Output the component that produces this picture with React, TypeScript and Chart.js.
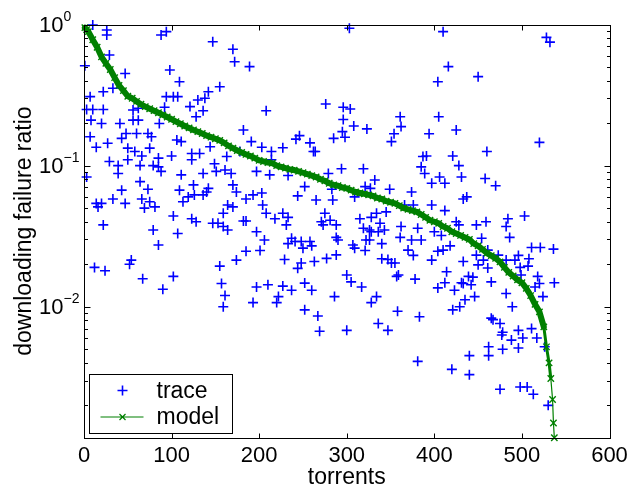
import React, { useEffect, useRef } from "react";
import { Chart, registerables } from "chart.js";

Chart.register(...registerables);

const FONT = "'Liberation Sans', Arial, Helvetica, sans-serif";

const xTitle = "torrents";
const yTitle = "downloading failure ratio";
const legendLabels = ["trace", "model"];
const xTickValues = [0, 100, 200, 300, 400, 500, 600];
const yMajorTicks = [1, 0.1, 0.01];
const yTickBase = "10";
const yTickExponents = ["0", "\u22121", "\u22122"];
const xRange = [0, 600];
const yRange = [0.00118, 1];

const traceX = [
  10, 26, 26, 88, 94, 147, 170, 172, 189, 29, 1, 47, 98, 109, 155, 142, 22, 7, 33, 94,
  102, 107, 130, 138, 121, 3, 10, 22, 56, 62, 92, 136, 208, 128, 8, 20, 41, 56, 62, 86,
  182, 7, 48, 60, 73, 77, 106, 111, 144, 191, 203, 214, 14, 27, 43, 50, 58, 66, 75, 100,
  85, 123, 132, 163, 178, 29, 39, 64, 79, 85, 149, 214,
  39, 50, 88, 123, 151, 161, 168, 197, 3, 64, 73, 43, 33, 47, 66, 75, 69, 81, 14, 16,
  20, 109, 113, 119, 126, 136, 142, 140, 125, 136, 111, 170, 174, 193, 185, 164, 170, 159, 102, 123,
  128, 147, 153, 159, 164, 182, 185, 197, 22, 79, 107, 85, 185, 174, 201, 54, 52, 12, 24, 155,
  67, 102, 157, 90, 161, 197, 159, 193,
  303, 410, 416, 404, 450, 276, 296, 304, 296, 308, 323, 361, 362, 354, 351, 405, 425, 394, 295, 298,
  285, 246, 242, 258, 262, 264, 227, 387, 391, 385, 421, 428, 294, 319,
  528, 532, 520, 460, 431, 458, 470, 433, 437, 503, 484, 482, 486, 459, 448, 425, 428, 511, 521,
  536, 454, 496, 508, 492, 482, 473, 461, 448, 456, 450, 433, 461, 498, 507,
  212, 233, 279, 332, 389, 397, 406, 252, 244, 265, 284, 283, 321, 327, 309, 349, 374, 366, 376, 397,
  203, 204, 208, 227, 233, 218, 231, 275, 271, 273, 281, 288, 315, 328, 334, 345, 338, 319, 326, 328,
  336, 343, 326, 322, 206, 237, 241, 233, 248, 258, 260, 250, 288, 290, 307, 309, 321, 340, 362, 361,
  374, 385, 381, 370, 376, 397, 404, 229, 248, 244, 263, 277, 288, 340, 347, 351, 355, 300, 305, 317,
  359, 357, 378, 210, 227, 237, 252, 260, 222, 286, 334, 404,
  220, 328, 252, 267, 269, 300, 336, 347, 358, 383, 381,
  410, 414, 412, 433, 423, 431, 442, 444, 439, 446, 435, 429, 421, 465, 482, 489, 499, 518, 515, 524,
  520, 537, 465, 467, 475, 478, 477, 488, 496, 501, 511, 517, 526, 462, 462, 478, 496, 440, 440, 420,
  475, 498, 506, 513, 530,
  412, 412, 400, 408, 418,
];

const traceY = [
  0.99, 0.914, 0.842, 0.842, 0.89, 0.755, 0.667, 0.545, 0.503, 0.608, 0.51, 0.45, 0.476, 0.393, 0.362, 0.334, 0.334, 0.308, 0.353, 0.308,
  0.308, 0.308, 0.292, 0.3, 0.262, 0.25, 0.25, 0.25, 0.248, 0.255, 0.259, 0.245, 0.245, 0.222, 0.21, 0.199, 0.199, 0.21, 0.21, 0.199,
  0.179, 0.16, 0.169, 0.169, 0.169, 0.16, 0.152, 0.148, 0.136, 0.148, 0.135, 0.126, 0.135, 0.144, 0.156, 0.133, 0.126, 0.117, 0.133, 0.117,
  0.113, 0.122, 0.122, 0.116, 0.126, 0.107, 0.1, 0.1, 0.1, 0.098, 0.103, 0.11,
  0.088, 0.11, 0.091, 0.11, 0.091, 0.093, 0.088, 0.091, 0.083, 0.077, 0.068, 0.067, 0.058, 0.054, 0.058, 0.0555, 0.05, 0.051, 0.054, 0.051,
  0.054, 0.067, 0.0555, 0.06, 0.062, 0.062, 0.069, 0.065, 0.073, 0.088, 0.086, 0.073, 0.065, 0.062, 0.058, 0.0526, 0.051, 0.046, 0.044, 0.042,
  0.04, 0.039, 0.039, 0.037, 0.035, 0.0405, 0.0405, 0.034, 0.038, 0.035, 0.033, 0.0274, 0.0247, 0.0214, 0.025, 0.0214, 0.02, 0.019, 0.018, 0.0194,
  0.0158, 0.0164, 0.0146, 0.0133, 0.012, 0.0138, 0.01, 0.0107,
  0.94, 0.89, 0.503, 0.393, 0.427, 0.273, 0.259, 0.252, 0.212, 0.191, 0.182, 0.222, 0.189, 0.168, 0.148, 0.222, 0.179, 0.168, 0.174, 0.159,
  0.156, 0.163, 0.154, 0.145, 0.126, 0.126, 0.134, 0.116, 0.117, 0.098, 0.117, 0.1, 0.095, 0.095,
  0.81, 0.75, 0.146, 0.126, 0.083, 0.081, 0.072, 0.058, 0.06, 0.044, 0.042, 0.037, 0.031, 0.04, 0.038, 0.04, 0.038, 0.0263, 0.0263,
  0.0256, 0.0306, 0.0231, 0.0219, 0.0214, 0.0214, 0.0232, 0.0252, 0.0232, 0.0214, 0.0198, 0.0209, 0.0188, 0.019, 0.0194,
  0.086, 0.085, 0.088, 0.079, 0.088, 0.075, 0.083, 0.071, 0.061, 0.057, 0.057, 0.068, 0.071, 0.069, 0.06, 0.068, 0.065, 0.0526, 0.0526, 0.0526,
  0.064, 0.0526, 0.046, 0.046, 0.043, 0.042, 0.038, 0.046, 0.04, 0.038, 0.041, 0.038, 0.042, 0.043, 0.046, 0.047, 0.039, 0.036, 0.035, 0.034,
  0.034, 0.035, 0.0297, 0.0297, 0.0297, 0.0306, 0.029, 0.028, 0.029, 0.029, 0.027, 0.026, 0.031, 0.0297, 0.0274, 0.026, 0.025, 0.028, 0.037, 0.031,
  0.0297, 0.0297, 0.036, 0.0252, 0.0231, 0.0214, 0.0247, 0.0216, 0.0204, 0.0187, 0.0209, 0.022, 0.0233, 0.0219, 0.0216, 0.0204, 0.0204, 0.0168, 0.015, 0.0138,
  0.0168, 0.0164, 0.0157, 0.0143, 0.014, 0.0131, 0.0147, 0.0131, 0.0118, 0.0118, 0.0118, 0.0136,
  0.0107, 0.0107, 0.0095, 0.0086, 0.0067, 0.0068, 0.0076, 0.0068, 0.0093, 0.0085, 0.0041,
  0.0252, 0.0177, 0.0148, 0.0146, 0.0131, 0.0148, 0.0143, 0.0162, 0.0164, 0.0118, 0.0112, 0.01, 0.0095, 0.015, 0.0124, 0.01, 0.0168, 0.0164, 0.0138, 0.0118,
  0.0146, 0.0148, 0.0083, 0.0081, 0.0076, 0.0066, 0.0063, 0.0058, 0.0068, 0.006, 0.007, 0.006, 0.0052, 0.0052, 0.0045, 0.005, 0.0051, 0.0045, 0.0033, 0.0036,
  0.0026, 0.0027, 0.0027, 0.0024, 0.002,
  0.075, 0.048, 0.034, 0.032, 0.027,
];

const modelX = [
  1, 3, 5, 10, 15, 20, 25, 30, 35, 40, 45, 50, 55, 60, 65, 70, 75, 80, 85, 90,
  95, 100, 105, 110, 115, 120, 125, 130, 135, 140, 145, 150, 155, 160, 165, 170, 175, 180, 185, 190,
  195, 200, 205, 210, 215, 220, 225, 230, 235, 240, 245, 250, 255, 260, 265, 270, 275, 280, 285, 290,
  295, 300, 305, 310, 315, 320, 325, 330, 335, 340, 345, 350, 355, 360, 365, 370, 375, 380, 385, 390,
  395, 400, 405, 410, 415, 420, 425, 430, 435, 440, 445, 450, 455, 460, 465, 470, 475, 480, 485, 490,
  495, 500, 505, 510, 515, 520, 525, 528, 531, 533, 535, 536, 537,
];

const modelY = [
  0.95, 0.92, 0.89, 0.78, 0.69, 0.59, 0.53, 0.48, 0.42, 0.37, 0.34, 0.31, 0.3, 0.285, 0.272, 0.262, 0.253, 0.245, 0.237, 0.229,
  0.221, 0.213, 0.205, 0.198, 0.191, 0.185, 0.179, 0.174, 0.169, 0.163, 0.159, 0.155, 0.151, 0.145, 0.138, 0.133, 0.128, 0.124, 0.12, 0.117,
  0.113, 0.109, 0.107, 0.105, 0.104, 0.1, 0.098, 0.096, 0.094, 0.093, 0.091, 0.089, 0.087, 0.085, 0.083, 0.08, 0.078, 0.075, 0.073, 0.072,
  0.07, 0.069, 0.067, 0.065, 0.064, 0.063, 0.062, 0.061, 0.059, 0.058, 0.056, 0.055, 0.054, 0.052, 0.05, 0.049, 0.048, 0.047, 0.045, 0.043,
  0.041, 0.04, 0.039, 0.037, 0.036, 0.034, 0.033, 0.032, 0.031, 0.03, 0.028, 0.027, 0.0255, 0.024, 0.023, 0.022, 0.0208, 0.019, 0.0175, 0.0165,
  0.0155, 0.0148, 0.0135, 0.012, 0.0104, 0.0092, 0.0072, 0.0052, 0.004, 0.0031, 0.0022, 0.0015, 0.00118,
];

const TRACE_COLOR = "#0000ff";
const MODEL_COLOR = "#008000";

const framePlugin = {
  id: "matlabFrame",
  afterDatasetsDraw(chart: any) {
    const { ctx, chartArea: a, scales } = chart;
    const xs = scales.x;
    const ys = scales.y;
    ctx.save();
    ctx.strokeStyle = "#000";
    ctx.lineWidth = 1;
    const L = Math.round(a.left) + 0.5;
    const R = Math.round(a.right) + 0.5;
    const T = Math.round(a.top) + 0.5;
    const B = Math.round(a.bottom) + 0.5;
    ctx.strokeRect(L, T, R - L, B - T);
    ctx.beginPath();
    for (const v of xTickValues) {
      const px = Math.round(xs.getPixelForValue(v)) + 0.5;
      ctx.moveTo(px, B);
      ctx.lineTo(px, B - 5);
      ctx.moveTo(px, T);
      ctx.lineTo(px, T + 5);
    }
    for (let k = -3; k <= 0; k++) {
      for (let m = 1; m <= 9; m++) {
        const v = m * Math.pow(10, k);
        if (v < yRange[0] || v > yRange[1] + 1e-9) continue;
        const len = m === 1 ? 6 : 3.5;
        const py = Math.round(ys.getPixelForValue(v)) + 0.5;
        ctx.moveTo(L, py);
        ctx.lineTo(L + len, py);
        ctx.moveTo(R, py);
        ctx.lineTo(R - len, py);
      }
    }
    ctx.stroke();

    ctx.fillStyle = "#000";
    ctx.textBaseline = "middle";
    yMajorTicks.forEach((v, i) => {
      const py = ys.getPixelForValue(v);
      const xr = a.left - 20.5;
      ctx.font = `22px ${FONT}`;
      ctx.textAlign = "right";
      ctx.fillText(yTickBase, xr, py + 1.5);
      ctx.font = `14px ${FONT}`;
      ctx.textAlign = "left";
      ctx.fillText(yTickExponents[i], xr, py - 7.5);
    });

    const bx = Math.round(a.left + 5) + 0.5;
    const bw = 143;
    const bh = 59;
    const by = Math.round(a.bottom - 5 - bh) + 0.5;
    ctx.fillStyle = "#fff";
    ctx.fillRect(bx, by, bw, bh);
    ctx.strokeStyle = "#000";
    ctx.lineWidth = 1;
    ctx.strokeRect(bx, by, bw, bh);
    const y1 = by + 16;
    const y2 = by + 42.5;
    const mx = bx + 33;
    ctx.strokeStyle = TRACE_COLOR;
    ctx.lineWidth = 1.6;
    ctx.beginPath();
    ctx.moveTo(mx - 5, y1);
    ctx.lineTo(mx + 5, y1);
    ctx.moveTo(mx, y1 - 5);
    ctx.lineTo(mx, y1 + 5);
    ctx.stroke();
    ctx.strokeStyle = MODEL_COLOR;
    ctx.lineWidth = 1.2;
    ctx.beginPath();
    ctx.moveTo(bx + 11, y2);
    ctx.lineTo(bx + 54, y2);
    ctx.moveTo(mx - 3, y2 - 3);
    ctx.lineTo(mx + 3, y2 + 3);
    ctx.moveTo(mx - 3, y2 + 3);
    ctx.lineTo(mx + 3, y2 - 3);
    ctx.stroke();
    ctx.fillStyle = "#000";
    ctx.font = `23px ${FONT}`;
    ctx.textAlign = "left";
    ctx.textBaseline = "middle";
    ctx.fillText(legendLabels[0], bx + 67, y1 + 1);
    ctx.fillText(legendLabels[1], bx + 67, y2 + 1);
    ctx.restore();
  },
};

export default function App() {
  const ref = useRef<HTMLCanvasElement | null>(null);
  useEffect(() => {
    if (!ref.current) return;
    const traceData = traceX.map((x, i) => ({ x, y: traceY[i] }));
    const modelData = modelX.map((x, i) => ({ x, y: modelY[i] }));
    const chart = new Chart(ref.current, {
      type: "scatter",
      data: {
        datasets: [
          {
            label: legendLabels[1],
            data: modelData,
            showLine: true,
            borderColor: MODEL_COLOR,
            borderWidth: 6,
            borderJoinStyle: "round",
            borderCapStyle: "round",
            segment: {
              borderWidth: (c: any) => {
                const y = c.p1.parsed.y;
                if (y < 0.003) return 1.2;
                if (y < 0.0065) return 3;
                return 6;
              },
            },
            tension: 0,
            pointStyle: "crossRot",
            pointRadius: 4.5,
            pointBorderWidth: 1.4,
            pointBorderColor: MODEL_COLOR,
            pointBackgroundColor: MODEL_COLOR,
            clip: false,
            order: 0,
          } as any,
          {
            label: legendLabels[0],
            data: traceData,
            showLine: false,
            pointStyle: "cross",
            pointRadius: 5,
            pointBorderWidth: 1.6,
            pointBorderColor: TRACE_COLOR,
            pointBackgroundColor: TRACE_COLOR,
            borderColor: TRACE_COLOR,
            clip: false,
            order: 1,
          } as any,
        ],
      },
      options: {
        animation: false,
        responsive: false,
        devicePixelRatio: 1,
        events: [],
        layout: { padding: { top: 24.5, right: 32.5, left: 0, bottom: 0 } },
        plugins: { legend: { display: false }, tooltip: { enabled: false } },
        scales: {
          x: {
            type: "linear",
            min: xRange[0],
            max: xRange[1],
            grid: { display: false, drawTicks: false },
            border: { display: false },
            afterBuildTicks: (s: any) => {
              s.ticks = xTickValues.map((v) => ({ value: v }));
            },
            ticks: {
              color: "#000",
              font: { family: FONT, size: 22 },
              padding: 5,
              maxRotation: 0,
              autoSkip: false,
            },
            title: {
              display: true,
              text: xTitle,
              color: "#000",
              font: { family: FONT, size: 23 },
              padding: { top: 0, bottom: 0 },
            },
            afterFit: (s: any) => {
              s.height = 53.3;
            },
          },
          y: {
            type: "logarithmic",
            min: yRange[0],
            max: yRange[1],
            grid: { display: false, drawTicks: false },
            border: { display: false },
            ticks: { display: false },
            title: {
              display: true,
              text: yTitle,
              color: "#000",
              font: { family: FONT, size: 23 },
              padding: { top: 11, bottom: 0 },
            },
            afterFit: (s: any) => {
              s.width = 84;
            },
          },
        },
      } as any,
      plugins: [framePlugin],
    });
    return () => chart.destroy();
  }, []);
  return (
    <div style={{ position: "fixed", left: 0, top: 0, width: 642, height: 491, background: "#fff" }}>
      <canvas ref={ref} width={642} height={491} style={{ display: "block" }} />
    </div>
  );
}
